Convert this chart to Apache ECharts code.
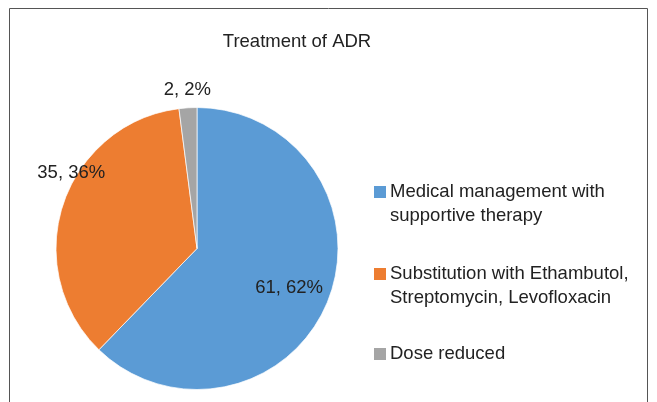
<!DOCTYPE html>
<html>
<head>
<meta charset="utf-8">
<script src="https://cdn.jsdelivr.net/npm/echarts@6/dist/echarts.min.js"></script>
<style>
html,body{margin:0;padding:0;background:#fff;}
#chart{width:657px;height:402px;}
</style>
</head>
<body>
<div id="chart"></div>
<script>
const titleText = 'Treatment of ADR';
const categories = ['Medical management with supportive therapy', 'Substitution with Ethambutol, Streptomycin, Levofloxacin', 'Dose reduced'];
const legendLabels = ['\nMedical management with\nsupportive therapy', '\nSubstitution with Ethambutol,\nStreptomycin, Levofloxacin', 'Dose reduced'];
const values = [61, 35, 2];
const colors = ['#5B9BD5', '#ED7D31', '#A5A5A5'];
const labelOffsets = [[24, 12], [-56, -52], [-5, -85]];

const FONT = '"Liberation Sans", Arial, sans-serif';
const chart = echarts.init(document.getElementById('chart'));

function makeLegend(i, top) {
  return {
    orient: 'vertical',
    left: 372,
    top: top,
    padding: 0,
    itemWidth: 14,
    itemHeight: 14,
    itemGap: 0,
    icon: 'rect',
    selectedMode: false,
    data: [categories[i]],
    formatter: function () { return legendLabels[i]; },
    textStyle: {
      fontFamily: FONT,
      fontSize: 18.5,
      color: '#222',
      lineHeight: 23.5,
      padding: [0, 0, 0, -2]
    }
  };
}

chart.setOption({
  animation: false,
  title: {
    text: titleText,
    left: 292,
    textAlign: 'center',
    top: 27,
    textStyle: { fontFamily: FONT, fontSize: 18.5, fontWeight: 'normal', color: '#222' }
  },
  graphic: [{
    type: 'rect',
    shape: { x: 9.5, y: 8.5, width: 638, height: 420 },
    style: { fill: 'none', stroke: '#555', lineWidth: 1 },
    silent: true
  }],
  legend: [
    makeLegend(0, 156.75),
    makeLegend(1, 238.75),
    makeLegend(2, 342.25)
  ],
  series: [{
    type: 'pie',
    center: [197, 248.5],
    radius: [0, 141],
    startAngle: 90,
    clockwise: true,
    percentPrecision: 0,
    avoidLabelOverlap: false,
    labelLine: { show: false },
    itemStyle: { borderColor: '#fff', borderWidth: 0.7 },
    data: categories.map((name, i) => ({
      name: name,
      value: values[i],
      itemStyle: { color: colors[i] },
      label: {
        show: true,
        position: 'inside',
        offset: labelOffsets[i],
        formatter: '{c}, {d}%',
        fontFamily: FONT,
        fontSize: 18.5,
        color: '#222'
      }
    }))
  }]
});
</script>
</body>
</html>
